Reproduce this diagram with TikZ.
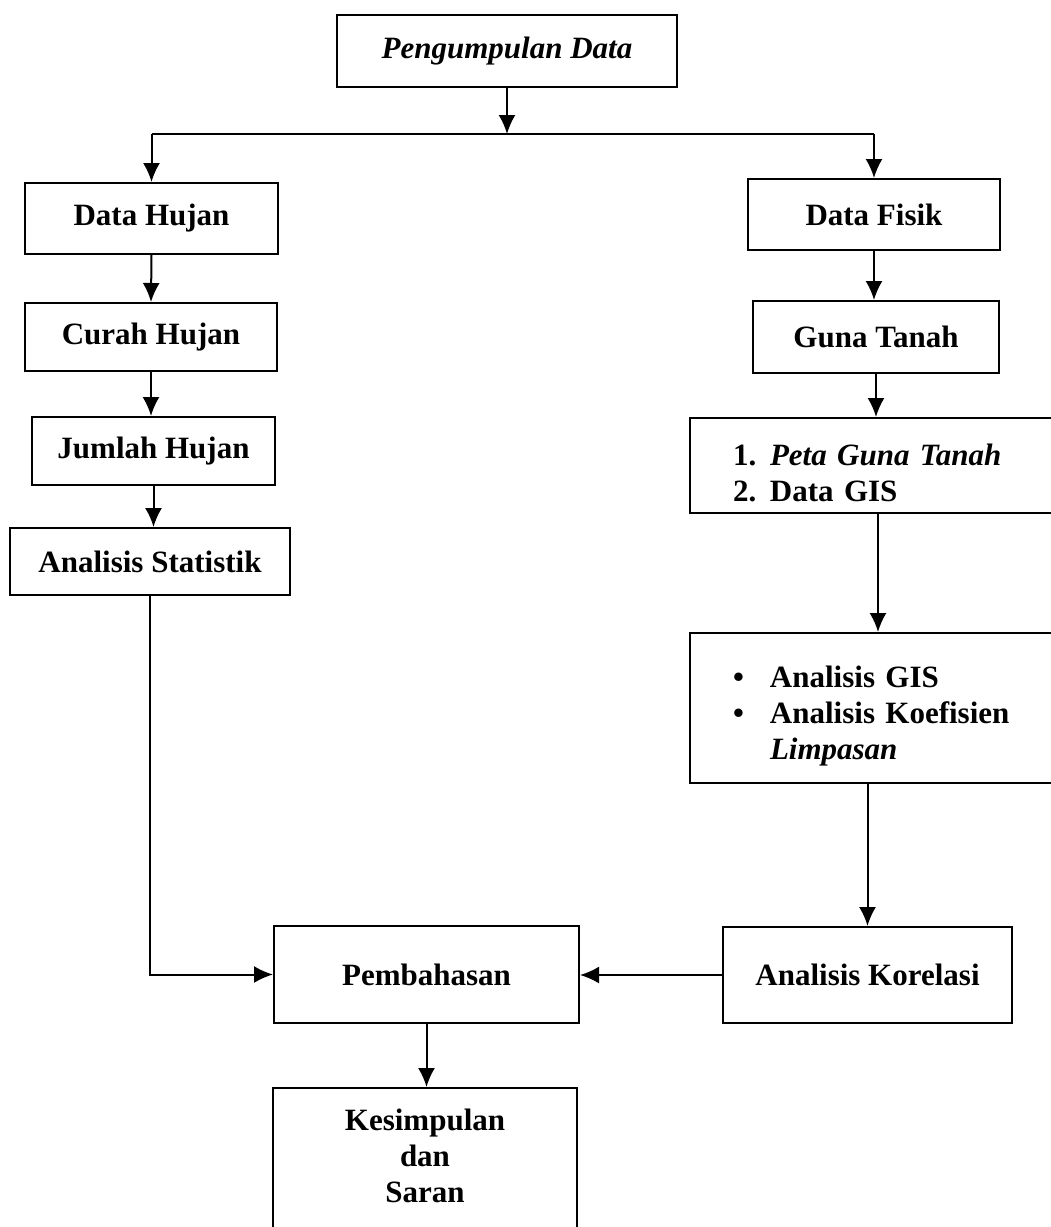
\documentclass[tikz,border=0pt]{standalone}
\usepackage{fontspec}
\setmainfont{Liberation Serif}
\usetikzlibrary{arrows.meta, calc}

\tikzset{
    box/.style={draw, line width=2pt, inner sep=0pt, align=center,
        font=\bfseries\fontsize{31}{36}\selectfont},
    link/.style={line width=2pt},
    flow/.style={link, -{Latex[length=19pt, width=17pt]}}
}

\begin{document}
\begin{tikzpicture}[x=1pt, y=-1pt]
            \useasboundingbox (0,0) rectangle (1051,1227);

            \node[box, minimum width=340pt, minimum height=72pt] (kumpul) at (507,51) {\itshape Pengumpulan Data};

            \node[box, minimum width=253pt, minimum height=71pt] (dhujan) at (151.5,218.5) {Data Hujan};
            \node[box, minimum width=252pt, minimum height=68pt] (curah) at (151,337) {Curah Hujan};
            \node[box, minimum width=243pt, minimum height=68pt] (jumlah) at (153.5,451) {Jumlah Hujan};
            \node[box, minimum width=280pt, minimum height=67pt] (statistik) at (150,561.5) {Analisis Statistik};

            \node[box, minimum width=252pt, minimum height=71pt] (dfisik) at (874,214.5) {Data Fisik};
            \node[box, minimum width=246pt, minimum height=72pt] (guna) at (876,337) {Guna Tanah};
            \node[box, align=left, text width=290pt, text height=36pt, minimum width=376pt, minimum height=95pt] (peta) at (878,465.5)
                {\makebox[37pt][l]{1.}\textit{Peta Guna Tanah}\\\makebox[37pt][l]{2.}Data GIS};
            \node[box, align=left, text width=290pt, text height=38pt, minimum width=376pt, minimum height=150pt] (gis) at (878,708)
                {\makebox[37pt][l]{\textbullet}Analisis GIS\\\makebox[37pt][l]{\textbullet}Analisis Koefisien\\\hspace*{37pt}\textit{Limpasan}};
            \node[box, minimum width=289pt, minimum height=96pt] (korelasi) at (867.5,975) {Analisis Korelasi};

            \node[box, minimum width=305pt, minimum height=97pt] (bahas) at (426.5,974.5) {Pembahasan};
            \node[box, text depth=16pt, minimum width=304pt, minimum height=152pt] (simpul) at (425,1164) {Kesimpulan\\dan\\Saran};

            \coordinate (split) at (507,134);
            \draw[flow] (kumpul.south) -- (split);
            \draw[link] (dhujan.north |- split) -- (dfisik.north |- split);
            \draw[flow] (dhujan.north |- split) -- (dhujan.north);
            \draw[flow] (dfisik.north |- split) -- (dfisik.north);

            \draw[flow] (dhujan.south) -- (curah.north);
            \draw[flow] (curah.south) -- (curah.south |- jumlah.north);
            \draw[flow] (jumlah.south) -- (jumlah.south |- statistik.north);

            \draw[flow] (dfisik.south) -- (dfisik.south |- guna.north);
            \draw[flow] (guna.south) -- (guna.south |- peta.north);
            \draw[flow] (peta.south) -- (gis.north);
            \draw[flow] (korelasi.north |- gis.south) -- (korelasi.north);

            \draw[flow] (statistik.south) |- (bahas.west);
            \draw[flow] (korelasi.west) -- (korelasi.west -| bahas.east);
            \draw[flow] (bahas.south) -- (bahas.south |- simpul.north);
        \end{tikzpicture}
\end{document}
